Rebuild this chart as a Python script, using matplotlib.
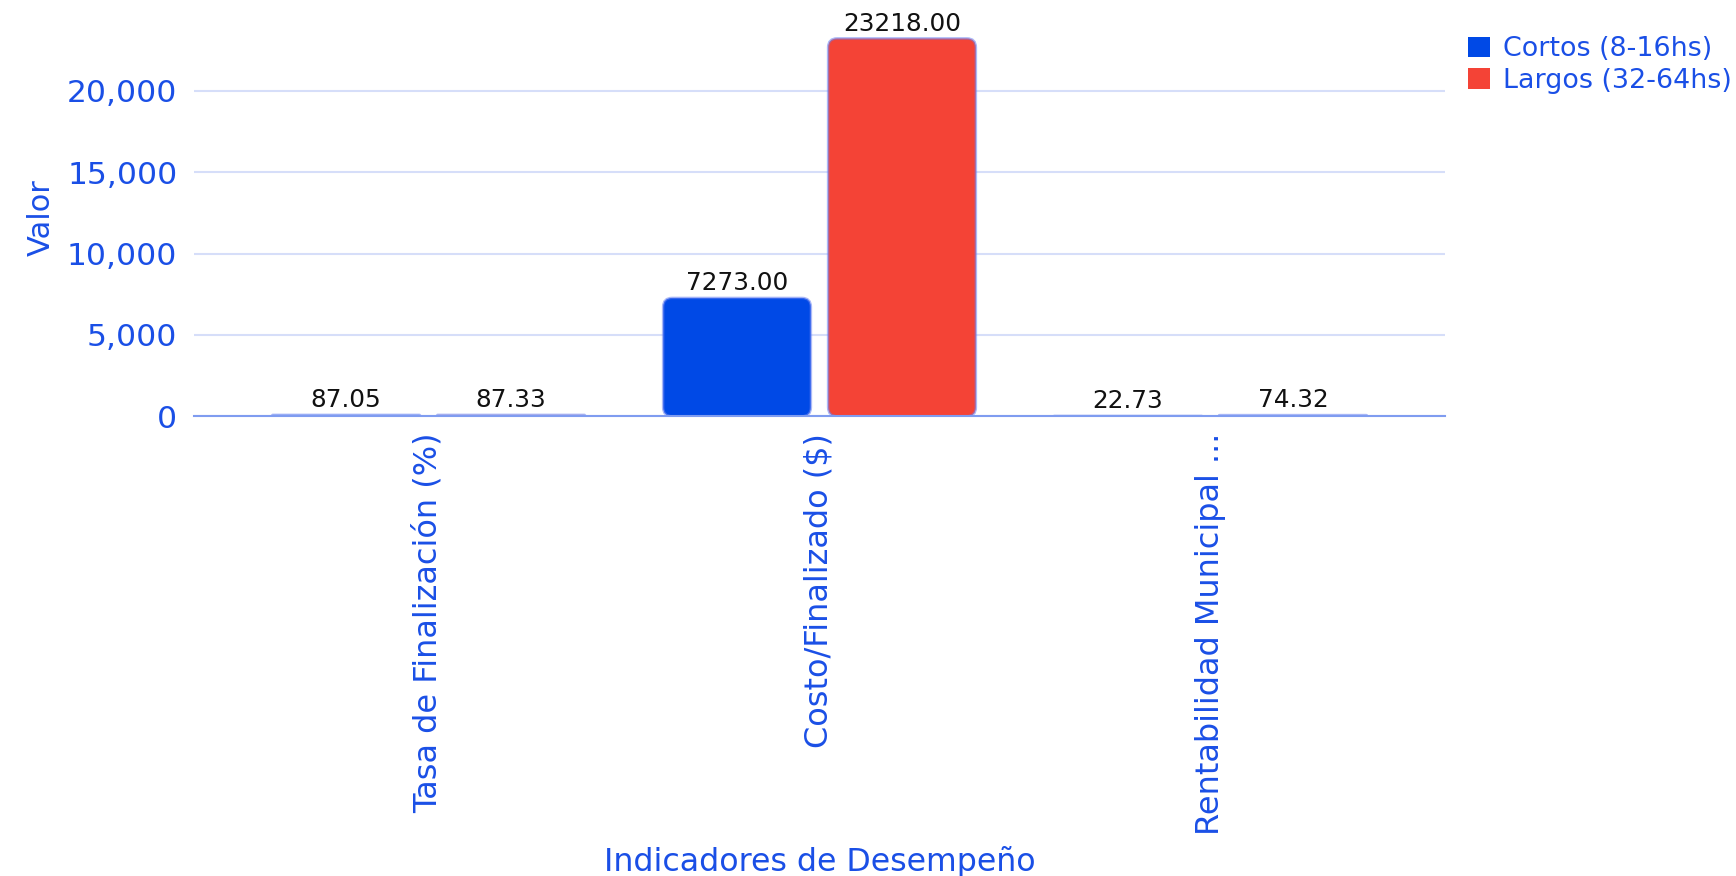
import numpy as np
import matplotlib.pyplot as plt
from matplotlib.patches import FancyBboxPatch, Patch
from matplotlib.ticker import FuncFormatter

# Datos
categorias = ['Tasa de Finalización (%)', 'Costo/Finalizado ($)', 'Rentabilidad Municipal ...']
cortos = [87.05, 7273.00, 22.73]
largos = [87.33, 23218.00, 74.32]
series = ['Cortos (8-16hs)', 'Largos (32-64hs)']
colores = ['#0049e6', '#f44336']
azul_texto = '#1a4fe6'

W, H = 1736, 876
fig = plt.figure(figsize=(W / 100, H / 100), dpi=100)
ax_l, ax_r, ax_b, ax_t = 194 / W, 1445 / W, 1 - 416.3 / H, 1 - 19.5 / H
ax = fig.add_axes([ax_l, ax_b, ax_r - ax_l, ax_t - ax_b])

x = np.arange(len(categorias))
ancho = 0.378
desp = 0.211
ymax = max(max(cortos), max(largos)) * 1.05
ax.set_xlim(-0.6, 2.6)
ax.set_ylim(0, ymax)

# escala px por unidad para esquinas redondeadas
px_x = (ax_r - ax_l) * W / 3.2
px_y = (ax_t - ax_b) * H / ymax
aspecto = px_x / px_y
radio_px = 9

for vals, color, off in zip([cortos, largos], colores, [-desp, desp]):
    for xi, v in zip(x, vals):
        r = min(radio_px / px_x, v * px_y / px_x / 2)
        p = FancyBboxPatch((xi + off - ancho / 2, 0), ancho, v,
                           boxstyle=f'round,pad=0,rounding_size={r}',
                           mutation_aspect=aspecto,
                           facecolor=color, edgecolor=(0.4, 0.5, 0.95, 0.55),
                           linewidth=1.8, zorder=3)
        ax.add_patch(p)
        ax.annotate(f'{v:.2f}', (xi + off, v), xytext=(0, 2), textcoords='offset points',
                    ha='center', va='bottom', fontsize=17.8, color='#111111', zorder=4)

ax.set_xticks(x)
ax.set_xticklabels(categorias, rotation=90, fontsize=23, color=azul_texto, va='top')
ax.set_yticks([0, 5000, 10000, 15000, 20000])
ax.yaxis.set_major_formatter(FuncFormatter(lambda v, p: f'{v:,.0f}'))
ax.tick_params(axis='y', labelsize=22.6, colors=azul_texto, length=0, pad=12)
ax.tick_params(axis='x', length=0, pad=12)

ax.grid(axis='y', color='#d6def9', linewidth=1.5, zorder=0)
ax.set_axisbelow(True)
for s in ['top', 'right', 'left']:
    ax.spines[s].set_visible(False)
ax.spines['bottom'].set_color('#7f9cf0')
ax.spines['bottom'].set_linewidth(1.5)
ax.spines['bottom'].set_zorder(5)

ax.set_ylabel('Valor', fontsize=22, color=azul_texto, labelpad=8)
ax.set_xlabel('Indicadores de Desempeño', fontsize=22.8, color=azul_texto, labelpad=8)

handles = [Patch(facecolor=c, edgecolor='none') for c in colores]
leg = ax.legend(handles, series, loc='upper left', bbox_to_anchor=(1.01, 0.985), frameon=False,
                fontsize=19.4, handlelength=0.8, handleheight=0.8, handletextpad=0.5,
                labelspacing=0.2, borderaxespad=0)
for t in leg.get_texts():
    t.set_color(azul_texto)

fig.savefig('out.png', dpi=100)
